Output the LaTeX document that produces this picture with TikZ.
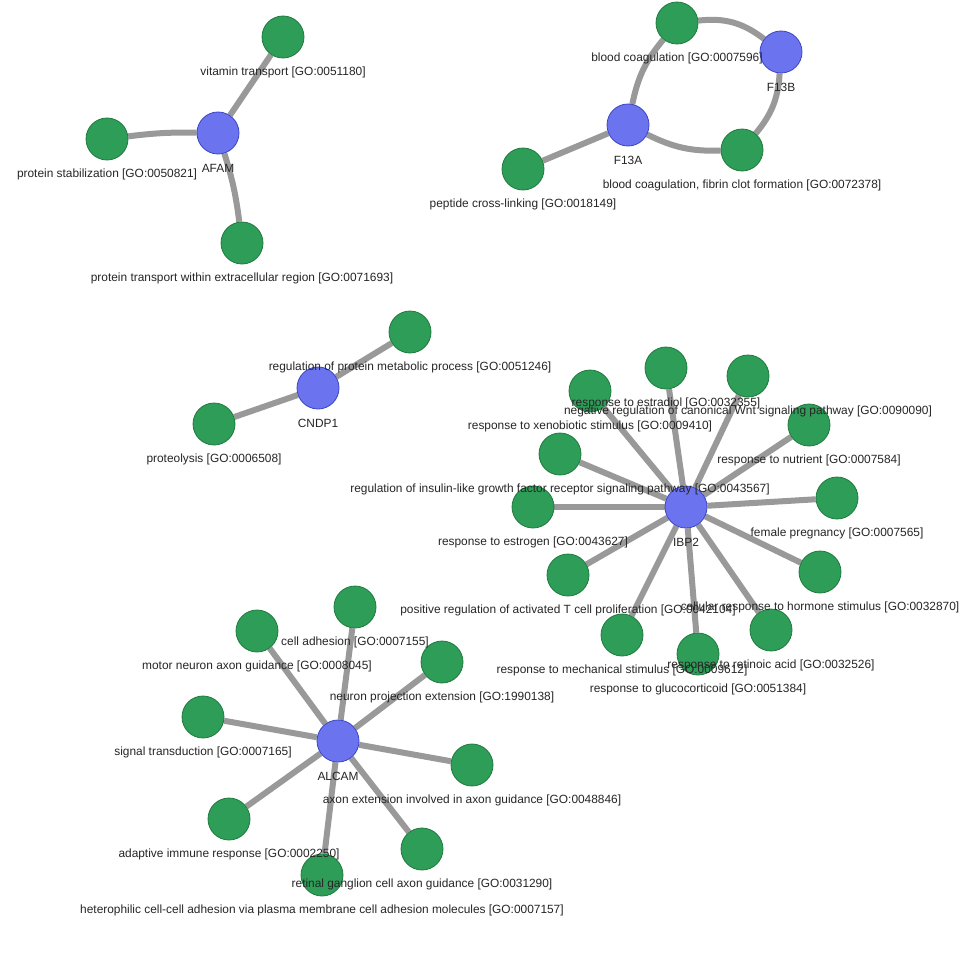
\documentclass[tikz,border=0pt]{standalone}
\usepackage{fontspec}
\setmainfont{Liberation Sans}
\usetikzlibrary{backgrounds}
\definecolor{gofill}{HTML}{2E9D58}
\definecolor{godraw}{HTML}{1F7A3F}
\definecolor{genefill}{HTML}{6B74EE}
\definecolor{genedraw}{HTML}{3B44C4}
\definecolor{edgecol}{HTML}{999999}
\definecolor{labcol}{HTML}{262626}
\tikzset{
  gonode/.style={circle, fill=gofill, draw=godraw, line width=0.8pt, minimum size=42pt, inner sep=0pt},
  genenode/.style={circle, fill=genefill, draw=genedraw, line width=0.8pt, minimum size=42pt, inner sep=0pt},
  edge/.style={draw=edgecol, line width=6pt},
  lab/.style={text=labcol, inner sep=0pt, font=\fontsize{11.9}{14}\selectfont}
}
\newcommand{\glab}[2]{\node[lab] (#1-l) at ([yshift=-35pt]#1.center) {#2};}
\begin{document}
\begin{tikzpicture}[x=1pt,y=-1pt]
\useasboundingbox (0,0) rectangle (966,966);
% AFAM group
\node[genenode] (AFAM) at (218,133) {};
\node[gonode] (vit) at (283,37) {};
\node[gonode] (pstab) at (107,139) {};
\node[gonode] (ptrans) at (242,243) {};
% F13 group
\node[genenode] (F13A) at (628,125) {};
\node[genenode] (F13B) at (781,52) {};
\node[gonode] (bc) at (677,23) {};
\node[gonode] (bcf) at (742,150) {};
\node[gonode] (pcl) at (523,169) {};
% CNDP1 group
\node[genenode] (CNDP1) at (318,388) {};
\node[gonode] (rpm) at (410,332) {};
\node[gonode] (prot) at (214,424) {};
% IBP2 group
\node[genenode] (IBP2) at (686,507) {};
\node[gonode] (estradiol) at (666,368) {};
\node[gonode] (wnt) at (748,376) {};
\node[gonode] (xeno) at (590,391) {};
\node[gonode] (nutr) at (809,425) {};
\node[gonode] (insulin) at (560,454) {};
\node[gonode] (estrogen) at (533,507) {};
\node[gonode] (preg) at (837,498) {};
\node[gonode] (tcell) at (568,575) {};
\node[gonode] (hormone) at (820,572) {};
\node[gonode] (mech) at (622,635) {};
\node[gonode] (retinoic) at (771,630) {};
\node[gonode] (gluco) at (698,654) {};
% ALCAM group
\node[genenode] (ALCAM) at (338,741) {};
\node[gonode] (celladh) at (355,607) {};
\node[gonode] (motor) at (257,631) {};
\node[gonode] (npe) at (442,662) {};
\node[gonode] (sigt) at (203,717) {};
\node[gonode] (axon) at (472,765) {};
\node[gonode] (adapt) at (229,819) {};
\node[gonode] (retinal) at (422,849) {};
\node[gonode] (hetero) at (322,875) {};
% edges
\begin{scope}[on background layer]
\fill[white] (0,0) rectangle (966,966);
\draw[edge] (AFAM) -- (vit);
\draw[edge] (pstab) to[bend left=4] (AFAM);
\draw[edge] (AFAM) to[bend left=5] (ptrans);
\draw[edge] (F13A) to[bend left=14] (bc);
\draw[edge] (bc) to[bend left=22] (F13B);
\draw[edge] (F13B) to[bend left=18] (bcf);
\draw[edge] (bcf) to[bend left=14] (F13A);
\draw[edge] (F13A) -- (pcl);
\draw[edge] (CNDP1) -- (rpm);
\draw[edge] (CNDP1) -- (prot);
\foreach \t in {estradiol,wnt,xeno,nutr,insulin,estrogen,preg,tcell,hormone,mech,retinoic,gluco}
  \draw[edge] (IBP2) -- (\t);
\foreach \t in {celladh,motor,npe,sigt,axon,adapt,retinal,hetero}
  \draw[edge] (ALCAM) -- (\t);
\end{scope}
% labels
\glab{AFAM}{AFAM}
\glab{vit}{vitamin transport [GO:0051180]}
\glab{pstab}{protein stabilization [GO:0050821]}
\glab{ptrans}{protein transport within extracellular region [GO:0071693]}
\glab{F13A}{F13A}
\glab{F13B}{F13B}
\glab{bc}{blood coagulation [GO:0007596]}
\glab{bcf}{blood coagulation, fibrin clot formation [GO:0072378]}
\glab{pcl}{peptide cross-linking [GO:0018149]}
\glab{CNDP1}{CNDP1}
\glab{rpm}{regulation of protein metabolic process [GO:0051246]}
\glab{prot}{proteolysis [GO:0006508]}
\glab{IBP2}{IBP2}
\glab{estradiol}{response to estradiol [GO:0032355]}
\glab{wnt}{negative regulation of canonical Wnt signaling pathway [GO:0090090]}
\glab{xeno}{response to xenobiotic stimulus [GO:0009410]}
\glab{nutr}{response to nutrient [GO:0007584]}
\glab{insulin}{regulation of insulin-like growth factor receptor signaling pathway [GO:0043567]}
\glab{estrogen}{response to estrogen [GO:0043627]}
\glab{preg}{female pregnancy [GO:0007565]}
\glab{tcell}{positive regulation of activated T cell proliferation [GO:0042104]}
\glab{hormone}{cellular response to hormone stimulus [GO:0032870]}
\glab{mech}{response to mechanical stimulus [GO:0009612]}
\glab{retinoic}{response to retinoic acid [GO:0032526]}
\glab{gluco}{response to glucocorticoid [GO:0051384]}
\glab{ALCAM}{ALCAM}
\glab{celladh}{cell adhesion [GO:0007155]}
\glab{motor}{motor neuron axon guidance [GO:0008045]}
\glab{npe}{neuron projection extension [GO:1990138]}
\glab{sigt}{signal transduction [GO:0007165]}
\glab{axon}{axon extension involved in axon guidance [GO:0048846]}
\glab{adapt}{adaptive immune response [GO:0002250]}
\glab{retinal}{retinal ganglion cell axon guidance [GO:0031290]}
\glab{hetero}{heterophilic cell-cell adhesion via plasma membrane cell adhesion molecules [GO:0007157]}
\end{tikzpicture}
\end{document}
